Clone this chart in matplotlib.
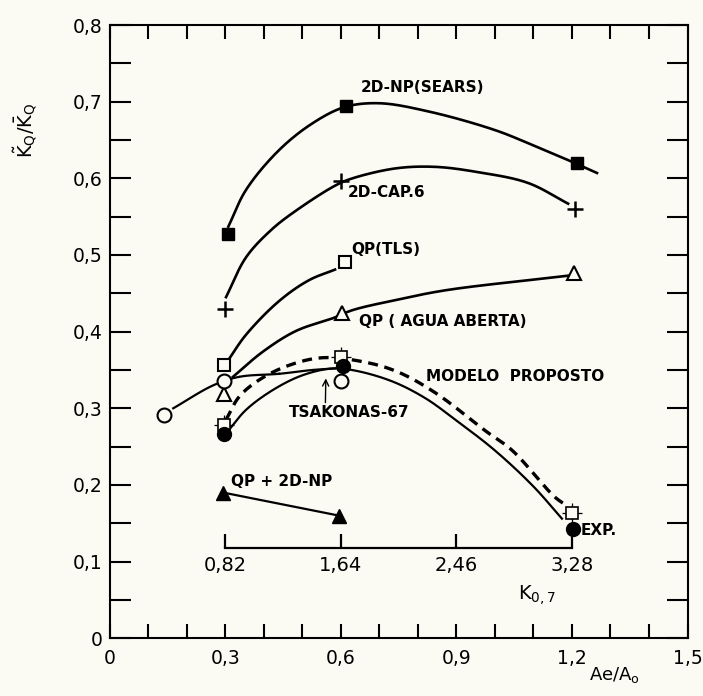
import numpy as np
import matplotlib.pyplot as plt

# marker values (Ae/Ao, Kq ratio)
sears_x = [0.307, 0.613, 1.213]
sears_y = [0.527, 0.695, 0.620]
cap_x = [0.300, 0.600, 1.208]
cap_y = [0.430, 0.596, 0.560]
tls_x = [0.297, 0.610]
tls_y = [0.357, 0.491]
agua_x = [0.297, 0.602, 1.205]
agua_y = [0.319, 0.424, 0.476]
circ_x = [0.142, 0.297, 0.600]
circ_y = [0.291, 0.336, 0.336]
exp_x = [0.297, 0.605, 1.203]
exp_y = [0.266, 0.355, 0.143]
model_x = [0.297, 0.600, 1.200]
model_y = [0.278, 0.367, 0.164]
qp2d_x = [0.295, 0.595]
qp2d_y = [0.190, 0.160]

# traced curves
sears_cx = [0.308, 0.354, 0.44, 0.527, 0.61, 0.70, 0.83, 1.0, 1.10, 1.18, 1.265]
sears_cy = [0.537, 0.585, 0.637, 0.672, 0.693, 0.698, 0.687, 0.663, 0.643, 0.626, 0.607]
cap_cx = [0.302, 0.354, 0.42, 0.484, 0.587, 0.63, 0.742, 0.845, 0.957, 1.086, 1.19]
cap_cy = [0.445, 0.497, 0.533, 0.558, 0.591, 0.600, 0.613, 0.615, 0.608, 0.594, 0.567]
tls_cx = [0.308, 0.354, 0.44, 0.517, 0.585]
tls_cy = [0.363, 0.396, 0.440, 0.467, 0.481]
agua_cx = [0.32, 0.398, 0.484, 0.582, 0.63, 0.75, 0.872, 1.19]
agua_cy = [0.341, 0.374, 0.401, 0.418, 0.428, 0.442, 0.454, 0.473]
circ_cx = [0.165, 0.269, 0.336, 0.44, 0.527, 0.585]
circ_cy = [0.300, 0.330, 0.341, 0.345, 0.350, 0.352]
exp_cx = [0.31, 0.354, 0.424, 0.50, 0.579, 0.639, 0.734, 0.82, 0.90, 1.0, 1.10, 1.174]
exp_cy = [0.272, 0.298, 0.324, 0.343, 0.352, 0.349, 0.335, 0.313, 0.284, 0.245, 0.198, 0.156]
model_cx = [0.302, 0.336, 0.388, 0.465, 0.553, 0.665, 0.75, 0.846, 0.977, 1.045, 1.156, 1.19]
model_cy = [0.285, 0.315, 0.337, 0.356, 0.366, 0.360, 0.347, 0.320, 0.270, 0.245, 0.184, 0.172]

# inner K0,7 scale
k_labels = ['0,82', '1,64', '2,46', '3,28']
k_pos = [0.3, 0.6, 0.9, 1.2]

bg = '#fbfbf4'


def smooth(xs, ys, n=25, alpha=0.5):
    # centripetal catmull-rom through the traced points
    p = np.column_stack([xs, np.array(ys) * 2.0])
    p = np.vstack([2*p[0] - p[1], p, 2*p[-1] - p[-2]])
    out = []
    for i in range(1, len(p) - 2):
        P0, P1, P2, P3 = p[i-1], p[i], p[i+1], p[i+2]
        t0 = 0.0
        t1 = t0 + np.linalg.norm(P1 - P0) ** alpha
        t2 = t1 + np.linalg.norm(P2 - P1) ** alpha
        t3 = t2 + np.linalg.norm(P3 - P2) ** alpha
        t = np.linspace(t1, t2, n)[:, None]
        A1 = (t1 - t)/(t1 - t0)*P0 + (t - t0)/(t1 - t0)*P1
        A2 = (t2 - t)/(t2 - t1)*P1 + (t - t1)/(t2 - t1)*P2
        A3 = (t3 - t)/(t3 - t2)*P2 + (t - t2)/(t3 - t2)*P3
        B1 = (t2 - t)/(t2 - t0)*A1 + (t - t0)/(t2 - t0)*A2
        B2 = (t3 - t)/(t3 - t1)*A2 + (t - t1)/(t3 - t1)*A3
        out.append((t2 - t)/(t2 - t1)*B1 + (t - t1)/(t2 - t1)*B2)
    out = np.vstack(out)
    return out[:, 0], out[:, 1] / 2.0


fig = plt.figure(figsize=(7.03, 6.96), dpi=100, facecolor=bg)
ax = fig.add_axes([0.156, 0.083, 0.822, 0.881], facecolor=bg)

lw = 1.9
for cx, cy in [(sears_cx, sears_cy), (cap_cx, cap_cy), (tls_cx, tls_cy), (agua_cx, agua_cy)]:
    sx, sy = smooth(cx, cy)
    ax.plot(sx, sy, color='k', lw=lw, zorder=2)
sx, sy = smooth(circ_cx, circ_cy)
ax.plot(sx, sy, color='k', lw=1.6, zorder=2)
sx, sy = smooth(exp_cx, exp_cy)
ax.plot(sx, sy, color='k', lw=1.6, zorder=2)
sx, sy = smooth(model_cx, model_cy)
ax.plot(sx, sy, color='k', lw=2.4, ls=(0, (3, 2)), zorder=2)
ax.plot(qp2d_x, qp2d_y, color='k', lw=1.6, zorder=2)

ms = 9
ax.plot(sears_x, sears_y, 's', ms=ms, color='k', zorder=4)
ax.plot(cap_x, cap_y, '+', ms=11, mew=1.8, color='k', zorder=4)
ax.plot(tls_x, tls_y, 's', ms=ms, mfc=bg, mec='k', mew=1.5, zorder=4)
ax.plot(agua_x, agua_y, '^', ms=10, mfc=bg, mec='k', mew=1.5, zorder=4)
ax.plot(circ_x, circ_y, 'o', ms=10, mfc=bg, mec='k', mew=1.5, zorder=4)
ax.plot(exp_x, exp_y, 'o', ms=10, color='k', zorder=5)
ax.plot(model_x, model_y, '+', ms=15, mew=0.9, color='k', zorder=4)
ax.plot(model_x, model_y, 's', ms=8, mfc=bg, mec='k', mew=1.2, zorder=4)
ax.plot(qp2d_x, qp2d_y, '^', ms=10, color='k', zorder=4)

fs = 11
ax.text(0.652, 0.718, '2D-NP(SEARS)', fontsize=fs, va='center', fontweight='bold')
ax.text(0.618, 0.581, '2D-CAP.6', fontsize=fs, va='center', fontweight='bold')
ax.text(0.628, 0.507, 'QP(TLS)', fontsize=fs, va='center', fontweight='bold')
ax.text(0.647, 0.413, 'QP ( AGUA ABERTA)', fontsize=fs, va='center', fontweight='bold')
ax.text(0.820, 0.341, 'MODELO  PROPOSTO', fontsize=fs, va='center', fontweight='bold')
ax.annotate('TSAKONAS-67', xy=(0.561, 0.339), xytext=(0.466, 0.294), fontsize=fs,
            va='center', fontweight='bold',
            arrowprops=dict(arrowstyle='->', color='k', lw=1.0, shrinkA=0, shrinkB=0,
                            relpos=(0.3, 1.0)))
ax.text(0.316, 0.204, 'QP + 2D-NP', fontsize=fs, va='center', fontweight='bold')
ax.text(1.222, 0.141, 'EXP.', fontsize=fs, va='center', fontweight='bold')

# inner K0,7 axis
ax.plot([k_pos[0], k_pos[-1]], [0.118, 0.118], color='k', lw=1.6)
ax.vlines(k_pos, 0.118, 0.136, color='k', lw=1.6)
for p, lab in zip(k_pos, k_labels):
    ax.text(p, 0.095, lab, fontsize=14, ha='center', va='center')
ax.text(1.11, 0.056, r'K$_{\mathrm{0,7}}$', fontsize=14, ha='center', va='center')

ax.set_xlim(0, 1.5)
ax.set_ylim(0, 0.8)
ax.set_xticks([0, 0.3, 0.6, 0.9, 1.2, 1.5])
ax.set_xticklabels(['0', '0,3', '0,6', '0,9', '1,2', '1,5'])
ax.set_xticks(np.arange(0, 1.51, 0.1), minor=True)
ax.set_yticks(np.arange(0, 0.81, 0.1))
ax.set_yticklabels(['0', '0,1', '0,2', '0,3', '0,4', '0,5', '0,6', '0,7', '0,8'])
ax.set_yticks(np.arange(0, 0.81, 0.05), minor=True)
ax.tick_params(axis='both', which='both', direction='in', width=1.5, top=True, right=True,
               labelsize=13.5, color='k')
ax.tick_params(axis='x', which='both', length=10, pad=8)
ax.tick_params(axis='y', which='both', length=15, pad=5)
for s in ax.spines.values():
    s.set_linewidth(1.5)

ax.text(0.873, -0.06, r'Ae/A$_\mathrm{o}$', fontsize=13, ha='center', va='center',
        transform=ax.transAxes)
ax.set_ylabel(r'$\tilde{\mathrm{K}}_\mathrm{Q}/\bar{\mathrm{K}}_\mathrm{Q}$', fontsize=14)
ax.yaxis.set_label_coords(-0.122, 0.829)

fig.savefig('out.png', dpi=100, facecolor=bg)
